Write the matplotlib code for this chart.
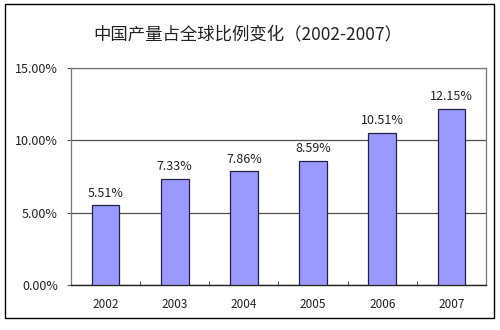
import matplotlib.pyplot as plt
from matplotlib.patches import Rectangle
from matplotlib.ticker import FuncFormatter

plt.rcParams['font.family'] = ['Noto Sans CJK SC', 'DejaVu Sans']

years = ['2002', '2003', '2004', '2005', '2006', '2007']
share = [5.51, 7.33, 7.86, 8.59, 10.51, 12.15]
title = '中国产量占全球比例变化（2002-2007）'

fig = plt.figure(figsize=(5, 3.3), dpi=100)
ax = fig.add_axes([0.142, 0.136, 0.830, 0.658])

# outer frame of the chart
fig.patches.append(Rectangle((0.010, 0.036), 0.978, 0.952, transform=fig.transFigure,
                             fill=False, edgecolor='black', linewidth=1.0))

x = list(range(len(years)))
bars = ax.bar(x, share, width=0.4, color='#9999FF', edgecolor='#222244', linewidth=0.9, zorder=3)
for xi, v in zip(x, share):
    ax.text(xi, v + 0.4, f'{v:.2f}%', ha='center', va='bottom', fontsize=9, color='#222222')

ax.set_xlim(-0.5, len(years) - 0.5)
ax.set_ylim(0, 15)
ax.set_yticks([0, 5, 10, 15])
ax.yaxis.set_major_formatter(FuncFormatter(lambda v, p: f'{v:.2f}%'))
ax.grid(axis='y', color='#505050', linewidth=0.9, zorder=0)

# year labels at bar centres, tick marks between categories
ax.set_xticks(x)
ax.set_xticklabels(years)
ax.set_xticks([i + 0.5 for i in x[:-1]], minor=True)
ax.tick_params(axis='x', which='major', length=0, pad=9, labelsize=8.5, labelcolor='#222222')
ax.tick_params(axis='x', which='minor', direction='in', length=3, color='#333333')
ax.tick_params(axis='y', length=3, color='#555555', labelsize=9, pad=6.5, labelcolor='#222222')

for side in ['left', 'right', 'top']:
    ax.spines[side].set_color('#777777')
    ax.spines[side].set_linewidth(0.9)
ax.spines['bottom'].set_color('#222222')
ax.spines['bottom'].set_linewidth(1.0)

fig.text(0.186, 0.895, title, fontsize=12.5, ha='left', va='center', color='#222222')

fig.savefig('out.png', dpi=100)
